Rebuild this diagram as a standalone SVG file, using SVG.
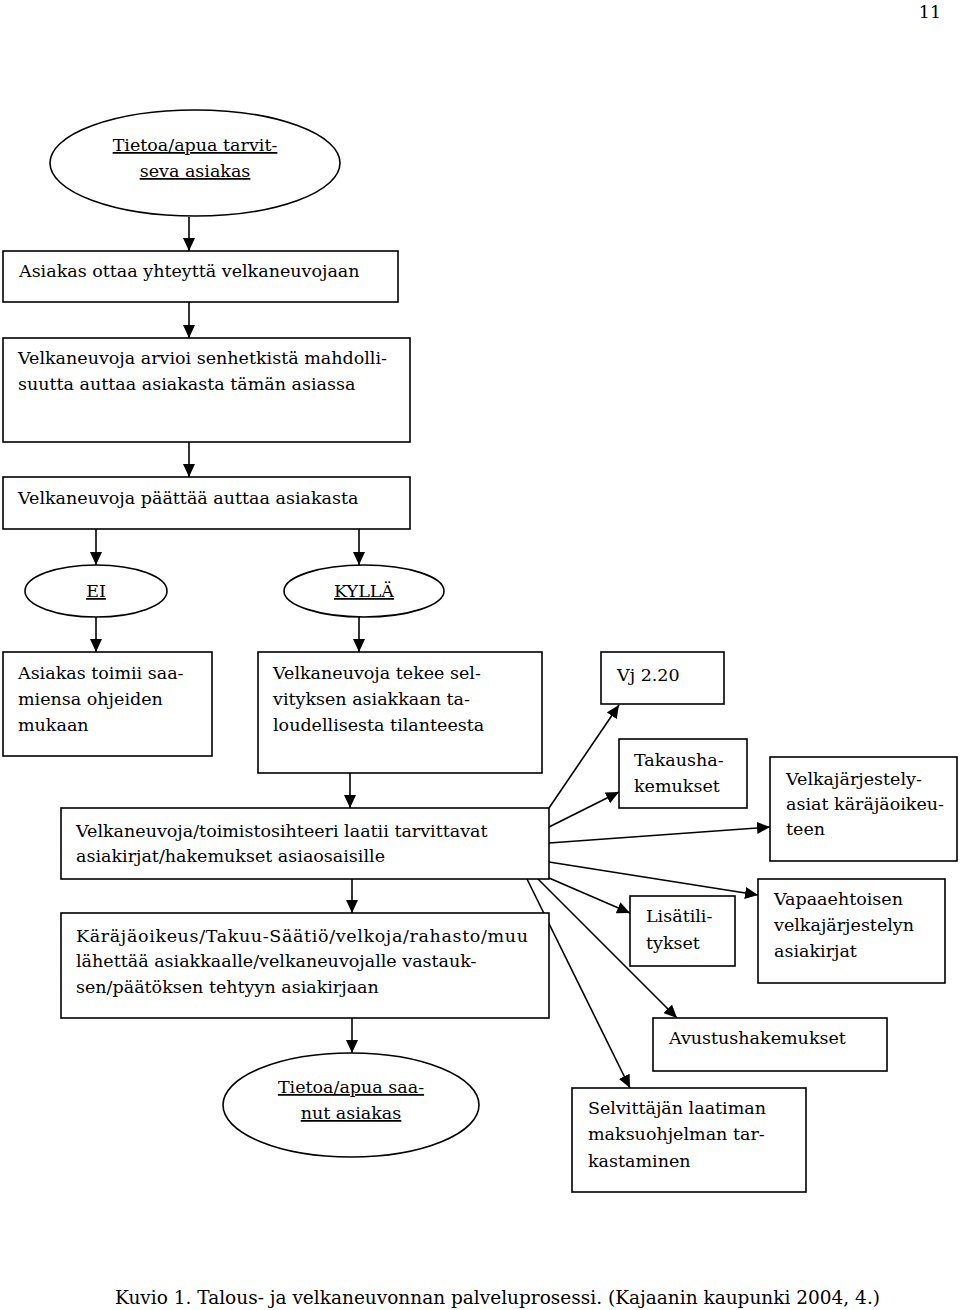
<svg xmlns="http://www.w3.org/2000/svg" width="960" height="1310" viewBox="0 0 960 1310">
<style>
text{font-family:"DejaVu Serif","Liberation Serif",serif;font-size:17.5px;fill:#000}
.u{text-decoration:underline}
.c{text-anchor:middle}
.b{fill:#fff;stroke:#000;stroke-width:1.6}
.l{stroke:#000;stroke-width:1.6;fill:none;marker-end:url(#ah)}
.cap{font-size:18.5px}
</style>
<defs>
<marker id="ah" markerUnits="userSpaceOnUse" markerWidth="14" markerHeight="12" refX="13" refY="6" orient="auto">
<path d="M0,0 L13,6 L0,12 Z" fill="#000"/>
</marker>
</defs>
<rect width="960" height="1310" fill="#fff"/>
<text x="930" y="18" class="c">11</text>
<g id="connectors">
<line class="l" x1="189" y1="217" x2="189" y2="251"/>
<line class="l" x1="189" y1="302" x2="189" y2="338"/>
<line class="l" x1="189" y1="442" x2="189" y2="477"/>
<line class="l" x1="96" y1="529" x2="96" y2="565"/>
<line class="l" x1="359" y1="529" x2="359" y2="565"/>
<line class="l" x1="96" y1="617" x2="96" y2="652"/>
<line class="l" x1="359" y1="617" x2="359" y2="652"/>
<line class="l" x1="350" y1="773" x2="350" y2="808"/>
<line class="l" x1="352" y1="879" x2="352" y2="913"/>
<line class="l" x1="352" y1="1018" x2="352" y2="1053"/>
<line class="l" x1="549" y1="808" x2="619" y2="705"/>
<line class="l" x1="549" y1="827" x2="619" y2="792"/>
<line class="l" x1="549" y1="843" x2="770" y2="827"/>
<line class="l" x1="549" y1="862" x2="758" y2="895"/>
<line class="l" x1="549" y1="878" x2="630" y2="913"/>
<line class="l" x1="538" y1="879" x2="677" y2="1018"/>
<line class="l" x1="527" y1="879" x2="630" y2="1088"/>
</g>
<g id="start">
<ellipse class="b" cx="195" cy="163" rx="145" ry="53"/>
<text x="195" y="151" class="c u">Tietoa/apua tarvit-</text>
<text x="195" y="177" class="c u">seva asiakas</text>
</g>
<g id="contact">
<rect class="b" x="3" y="251" width="395" height="51"/>
<text x="19" y="277">Asiakas ottaa yhteyttä velkaneuvojaan</text>
</g>
<g id="assess">
<rect class="b" x="3" y="338" width="407" height="104"/>
<text x="18" y="364">Velkaneuvoja arvioi senhetkistä mahdolli-</text>
<text x="18" y="390">suutta auttaa asiakasta tämän asiassa</text>
</g>
<g id="decide">
<rect class="b" x="3" y="477" width="407" height="52"/>
<text x="18" y="504">Velkaneuvoja päättää auttaa asiakasta</text>
</g>
<g id="ei">
<ellipse class="b" cx="96" cy="591" rx="71" ry="26"/>
<text x="96" y="597" class="c u">EI</text>
</g>
<g id="kylla">
<ellipse class="b" cx="364" cy="591" rx="80" ry="26"/>
<text x="364" y="597" class="c u">KYLLÄ</text>
</g>
<g id="ei-box">
<rect class="b" x="3" y="652" width="209" height="104"/>
<text x="18" y="679">Asiakas toimii saa-</text>
<text x="18" y="705">miensa ohjeiden</text>
<text x="18" y="731">mukaan</text>
</g>
<g id="kylla-box">
<rect class="b" x="258" y="652" width="284" height="121"/>
<text x="273" y="679">Velkaneuvoja tekee sel-</text>
<text x="273" y="705">vityksen asiakkaan ta-</text>
<text x="273" y="731">loudellisesta tilanteesta</text>
</g>
<g id="documents">
<rect class="b" x="61" y="808" width="488" height="71"/>
<text x="76" y="837">Velkaneuvoja/toimistosihteeri laatii tarvittavat</text>
<text x="76" y="862">asiakirjat/hakemukset asiaosaisille</text>
</g>
<g id="response">
<rect class="b" x="61" y="913" width="488" height="105"/>
<text x="76" y="942" textLength="452" lengthAdjust="spacing">Käräjäoikeus/Takuu-Säätiö/velkoja/rahasto/muu</text>
<text x="76" y="967">lähettää asiakkaalle/velkaneuvojalle vastauk-</text>
<text x="76" y="993">sen/päätöksen tehtyyn asiakirjaan</text>
</g>
<g id="end">
<ellipse class="b" cx="351" cy="1105" rx="128" ry="52"/>
<text x="351" y="1093" class="c u">Tietoa/apua saa-</text>
<text x="351" y="1119" class="c u">nut asiakas</text>
</g>
<g id="vj">
<rect class="b" x="601" y="652" width="123" height="52"/>
<text x="617" y="681">Vj 2.20</text>
</g>
<g id="takaus">
<rect class="b" x="619" y="739" width="128" height="69"/>
<text x="634" y="766">Takausha-</text>
<text x="634" y="792">kemukset</text>
</g>
<g id="velkajarj">
<rect class="b" x="770" y="757" width="187" height="104"/>
<text x="786" y="785">Velkajärjestely-</text>
<text x="786" y="810">asiat käräjäoikeu-</text>
<text x="786" y="835">teen</text>
</g>
<g id="lisatili">
<rect class="b" x="630" y="896" width="105" height="70"/>
<text x="646" y="922">Lisätili-</text>
<text x="646" y="949">tykset</text>
</g>
<g id="vapaa">
<rect class="b" x="758" y="879" width="187" height="104"/>
<text x="774" y="905">Vapaaehtoisen</text>
<text x="774" y="931">velkajärjestelyn</text>
<text x="774" y="957">asiakirjat</text>
</g>
<g id="avustus">
<rect class="b" x="653" y="1018" width="234" height="53"/>
<text x="669" y="1044">Avustushakemukset</text>
</g>
<g id="selvittaja">
<rect class="b" x="572" y="1088" width="234" height="104"/>
<text x="588" y="1114">Selvittäjän laatiman</text>
<text x="588" y="1140">maksuohjelman tar-</text>
<text x="588" y="1167">kastaminen</text>
</g>
<text x="115" y="1304" class="cap">Kuvio 1. Talous- ja velkaneuvonnan palveluprosessi. (Kajaanin kaupunki 2004, 4.)</text>
</svg>
